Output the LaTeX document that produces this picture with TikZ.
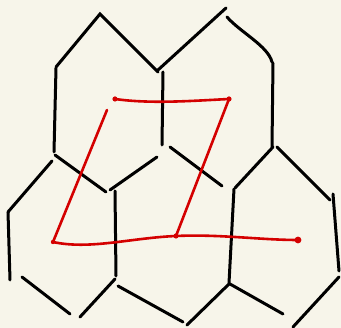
\documentclass[tikz,border=0pt]{standalone}
\usepackage{xcolor}
\definecolor{paper}{HTML}{F7F5EA}
\definecolor{pen}{HTML}{D40000}
\tikzset{
  wall/.style={line width=3pt,line cap=round,black},
  route/.style={line width=2.6pt,line cap=round,line join=round,pen}
}

\begin{document}
\begin{tikzpicture}[x=1pt,y=-1pt]
    % paper
    \fill[paper] (0,0) rectangle (341,328);
    \useasboundingbox (0,0) rectangle (341,328);
    % top row of cells
    \draw[wall] (56,67) -- (100,14) -- (158,72);
    \draw[wall] (158,70) -- (226,8);
    \draw[wall] (227,17) .. controls (240,32) and (268,46) .. (272,62);
    \draw[wall] (56,68) -- (54,152);
    \draw[wall] (163,72) -- (162,145);
    \draw[wall] (273,63) -- (272,147);
    % middle joins
    \draw[wall] (52,161) -- (8,212);
    \draw[wall] (55,155) -- (106,192);
    \draw[wall] (110,190) -- (157,157);
    \draw[wall] (170,147) -- (222,186);
    \draw[wall] (273,147) -- (235,188);
    \draw[wall] (277,147) -- (330,200);
    % bottom row of cells
    \draw[wall] (8,212) -- (10,280);
    \draw[wall] (115,191) -- (116,276);
    \draw[wall] (234,189) -- (229,283);
    \draw[wall] (333,194) -- (339,271);
    \draw[wall] (22,277) -- (70,314);
    \draw[wall] (80,317) -- (115,279);
    \draw[wall] (118,286) -- (183,322);
    \draw[wall] (187,325) -- (229,284);
    \draw[wall] (230,284) -- (283,314);
    \draw[wall] (293,327) -- (339,277);
    % route points
    \coordinate (p1) at (115,99);
    \coordinate (p2) at (229,99);
    \coordinate (p3) at (176,236);
    \coordinate (p4) at (53,242);
    \coordinate (p5) at (107,110);
    \coordinate (p6) at (298,240);
    % route
    \draw[route] (p1) .. controls (150,104) and (190,101) .. (p2);
    \draw[route] (p2) -- (p3);
    \draw[route] (p5) -- (p4);
    \draw[route] (p4) .. controls (90,250) and (130,238) .. (p3);
    \draw[route] (p3) .. controls (220,234) and (260,240) .. (p6);
    % pen blobs
    \fill[pen] (p1) circle (2.6);
    \fill[pen] (p2) circle (2.6);
    \fill[pen] (p3) circle (2.6);
    \fill[pen] (p4) circle (2.2);
    \fill[pen] (p6) circle (3.4);
\end{tikzpicture}
\end{document}
